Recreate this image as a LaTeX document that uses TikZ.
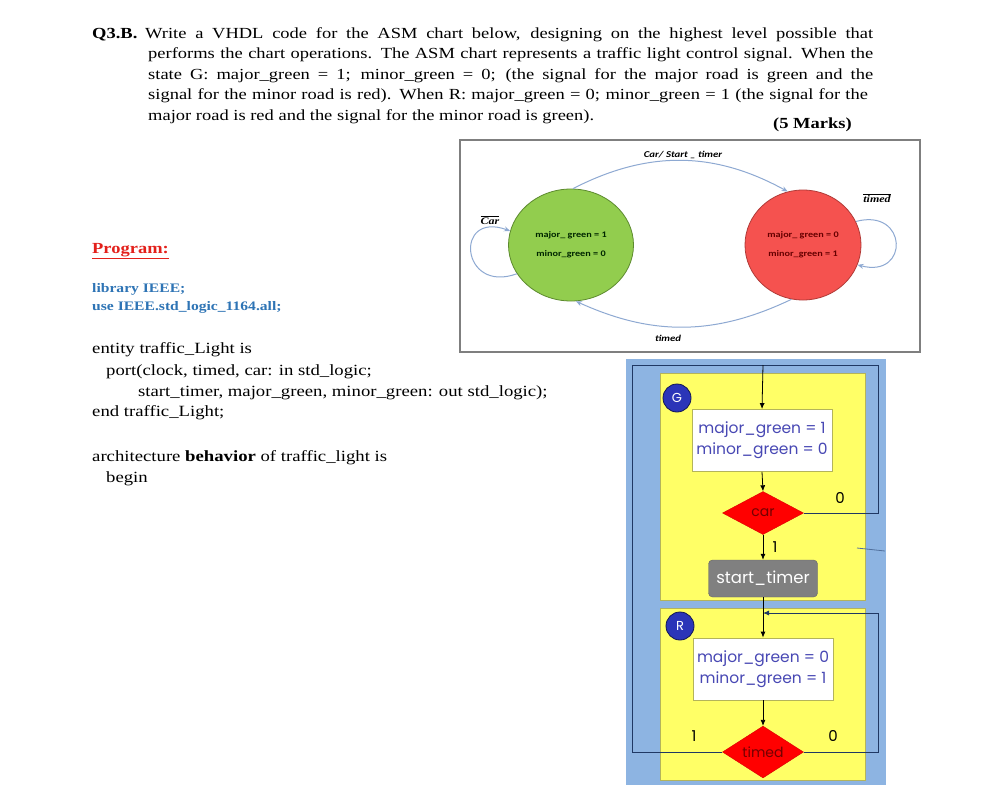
\documentclass[tikz,border=0pt]{standalone}
\usepackage{fontspec}
\setmainfont{Liberation Serif}[FakeStretch=1.2]
\newfontfamily\chartfont{Carlito}[FakeStretch=1.2]
\newfontfamily\asmfont{Poppins}
\usetikzlibrary{shapes.geometric,arrows.meta,positioning}

\begin{document}
\begin{tikzpicture}[x=1pt,y=-1pt,font=\fontsize{15.4}{20}\selectfont]
  \definecolor{qred}{HTML}{E3201B}
  \definecolor{qblue}{HTML}{2E74B5}
  \definecolor{stframe}{HTML}{7F7F7F}
  \definecolor{stgreen}{HTML}{92CD4E}
  \definecolor{stgreenline}{HTML}{5C8A2E}
  \definecolor{stred}{HTML}{F5524F}
  \definecolor{stredline}{HTML}{B03A37}
  \definecolor{starrow}{HTML}{8EA9D2}
  \definecolor{asmbg}{HTML}{8DB4E2}
  \definecolor{asmyellow}{HTML}{FFFF66}
  \definecolor{asmedge}{HTML}{B4B45A}
  \definecolor{asmloop}{HTML}{1F3864}
  \definecolor{asmtext}{HTML}{4848B4}
  \definecolor{asmdot}{HTML}{2B35B8}
  \tikzset{
    qline/.style={anchor=base west,inner sep=0pt},
    stnode/.style={ellipse,draw,line width=0.8pt,inner sep=0pt,align=center,
      font=\chartfont\bfseries\fontsize{8.5}{19}\selectfont},
    stedge/.style={starrow,line width=1pt,-{Stealth[length=6pt,width=5pt]}},
    stlabel/.style={font=\chartfont\bfseries\itshape\fontsize{9}{10}\selectfont},
    barlabel/.style={font=\bfseries\itshape\fontsize{10}{11}\selectfont},
    statebox/.style={draw=asmedge,fill=white,line width=0.8pt,minimum width=140pt,
      minimum height=62pt,align=center,text=asmtext,
      font=\asmfont\fontsize{15.5}{21}\selectfont},
    decision/.style={diamond,fill=red,draw=red!85!black,minimum width=81pt,
      minimum height=43pt,inner sep=0pt,text=red!45!black,
      font=\asmfont\fontsize{14}{14}\selectfont},
    stateid/.style={circle,fill=asmdot,draw=asmdot!45!black,line width=0.8pt,
      minimum size=28pt,inner sep=0pt,text=white,
      font=\asmfont\fontsize{13}{13}\selectfont},
    asmarrow/.style={line width=0.8pt,-{Latex[length=6pt,width=5pt]}},
    asmloopline/.style={asmloop,line width=1pt},
    exitlabel/.style={font=\asmfont\fontsize{15}{15}\selectfont}
  }
  \fill[white] (0,0) rectangle (984,809);

  % question text, justified lines
  \node[qline,font=\bfseries\fontsize{15.4}{20}\selectfont] (qnum) at (92,38) {Q3.B.};
  \foreach \xx/\yy/\lw/\txt in {
    145/38/728/{Write a VHDL code for the ASM chart below, designing on the highest level possible that},
    148/58.5/725/{performs the chart operations. The ASM chart represents a traffic light control signal. When the},
    148/79/725/{state G: major\_green = 1; minor\_green = 0; (the signal for the major road is green and the},
    148/99.5/725/{signal for the minor road is red). When R: major\_green = 0; minor\_green = 1 (the signal for the}
  }{
    \node[qline] at (\xx,\yy) {\makebox[\lw pt][s]{\txt}};
  }
  \node[qline] (qlast) at (148,120) {major road is red and the signal for the minor road is green).};
  \node[qline,font=\bfseries\fontsize{15.4}{20}\selectfont] (marks) at (773,128) {(5 Marks)};

  % program listing
  \node[qline,text=qred,font=\bfseries\fontsize{15.4}{20}\selectfont] (prog) at (92,253) {\underline{Program:}};
  \node[qline,text=qblue,font=\bfseries\fontsize{13}{16}\selectfont] (lib) at (92,292.5) {library IEEE;};
  \node[qline,text=qblue,font=\bfseries\fontsize{13}{16}\selectfont] (use) at (92,310.5) {use IEEE.std\_logic\_1164.all;};
  \foreach \xx/\yy/\txt in {
    92/353/{entity traffic\_Light is},
    106/375/{port(clock, timed, car: in std\_logic;},
    138/396/{start\_timer, major\_green, minor\_green: out std\_logic);},
    92/416.5/{end traffic\_Light;},
    92/461.5/{architecture \textbf{behavior} of traffic\_light is},
    106/482/{begin}
  }{
    \node[qline,font=\fontsize{15.6}{20}\selectfont] at (\xx,\yy) {\txt};
  }

  % state diagram
  \draw[stframe,line width=1.2pt] (460,140) rectangle (920,352);
  \node[stnode,draw=stgreenline,fill=stgreen,text=black!85!green,
        minimum width=125pt,minimum height=112pt] (stG) at (571,245)
        {major\_ green = 1\\minor\_green = 0};
  \node[stnode,draw=stredline,fill=stred,text=red!40!black,
        minimum width=116pt,minimum height=110pt] (stR) at (803,245)
        {major\_ green = 0\\minor\_green = 1};
  \draw[stedge] (stG.88) to[bend left=28] (stR.106);
  \draw[stedge] (stR.258) to[bend left=25] (stG.275);
  \draw[stedge] (stG.208) to[out=200,in=160,distance=60pt] (stG.167);
  \draw[stedge] (stR.24) to[out=15,in=-15,distance=54pt] (stR.340);
  \node[stlabel] (lblgo) at (683,155) {Car/ Start \_ timer};
  \node[stlabel] (lblback) at (668,338) {timed};
  \node[barlabel] (lblstay) at (490,220) {$\overline{\hbox{\bfseries\itshape Car}}$};
  \node[barlabel] (lblwait) at (877,198) {$\overline{\hbox{\bfseries\itshape timed}}$};

  % ASM chart
  \fill[asmbg] (626,359) rectangle (886,785);
  \draw[fill=asmyellow,draw=asmedge,line width=0.6pt] (660,373) rectangle (865,600);
  \draw[fill=asmyellow,draw=asmedge,line width=0.6pt] (660,608) rectangle (865,780);
  \node[stateid] (Gid) at (677,398) {G};
  \node[statebox] (Gbox) at (762,440.5) {major\_green = 1\\minor\_green = 0};
  \node[decision] (car) at (763,513) {car};
  \node[draw=black!60,fill=black!50,rounded corners=4pt,minimum width=109pt,
        minimum height=37pt,text=white,font=\asmfont\fontsize{16.5}{16}\selectfont]
        (stimer) at (763,578.5) {start\_timer};
  \node[stateid] (Rid) at (680,626) {R};
  \node[statebox] (Rbox) at (763,669) {major\_green = 0\\minor\_green = 1};
  \node[decision] (timed) at (763,752) {timed};

  \coordinate (topG) at (763,365);
  \coordinate (loopTR) at (878,365);
  \coordinate (loopTL) at (632,365);
  \coordinate (rloopTR) at (878,613);
  \coordinate (rentry) at (763,613);

  \draw[asmloopline] (car.east) -| (loopTR) -- (loopTL) |- (timed.west);
  \draw[asmloopline,asmarrow] (timed.east) -| (rloopTR) -- (rentry);
  \draw[asmarrow] (topG) -- (Gbox.north);
  \draw[asmarrow] (Gbox.south) -- (car.north);
  \draw[asmarrow] (car.south) -- (stimer.north);
  \draw[asmarrow] (stimer.south) -- (Rbox.north);
  \draw[asmarrow] (Rbox.south) -- (timed.north);
  \draw[asmloop!55!asmbg,line width=0.8pt] (857,548) -- (885,551);

  \node[exitlabel] (carno) at (840,498) {0};
  \node[exitlabel] (caryes) at (775,547) {1};
  \node[exitlabel] (timedyes) at (694,736) {1};
  \node[exitlabel] (timedno) at (833,736) {0};

  \useasboundingbox (0,0) rectangle (984,809);
\end{tikzpicture}
\end{document}
